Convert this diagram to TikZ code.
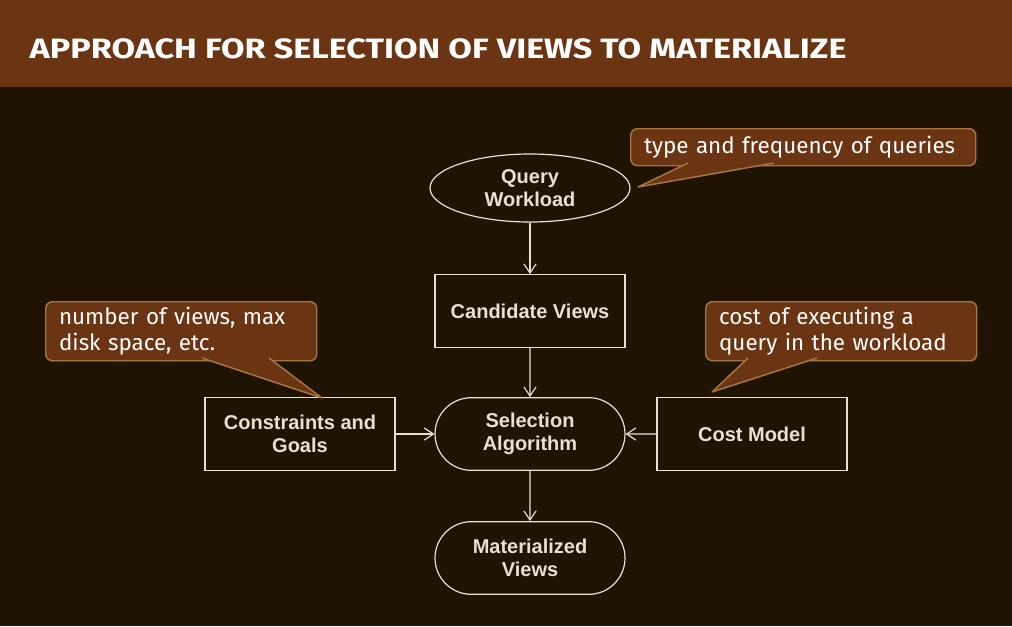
\documentclass[tikz,border=0pt]{standalone}
\usepackage{fontspec}
\usepackage{graphicx}
\setmainfont{Liberation Sans}
\newfontfamily\notefont{Fira Sans}
\usetikzlibrary{arrows.meta,calc,positioning,shapes.geometric,shapes.misc}
\definecolor{bark}{HTML}{6B3513}
\definecolor{night}{HTML}{1F1404}
\definecolor{cream}{HTML}{E9E1CC}
\definecolor{tan}{HTML}{A5763F}
\tikzset{
  >={Straight Barb[length=2.4mm,width=3.2mm]},
  every node/.style={font=\fontsize{15}{17.5}\selectfont\bfseries,text=cream},
  box/.style={draw=cream,line width=0.9pt,minimum width=142.5pt,minimum height=54.5pt,align=center,inner sep=0pt},
  pill/.style={rounded rectangle,draw=cream,line width=0.9pt,minimum width=142.5pt,minimum height=54.5pt,align=center,inner sep=0pt},
  oval/.style={ellipse,draw=cream,line width=0.9pt,minimum width=150pt,minimum height=51pt,align=center,inner sep=0pt},
  note/.style={anchor=north west,rounded corners=5pt,draw=tan,line width=1.1pt,fill=bark,
    font=\notefont\fontsize{16.8}{19}\selectfont,text=white,align=left,inner xsep=10pt,inner ysep=0pt},
  link/.style={->,draw=cream,line width=0.9pt},
}

\begin{document}
\begin{tikzpicture}[x=0.75pt,y=-0.75pt]
  % backdrop and title bar
  \fill[night] (0,0) rectangle (1012,626);
  \fill[bark] (0,0) rectangle (1012,87);
  \node[anchor=base west,text=white,font=\notefont\bfseries\fontsize{21}{24}\selectfont] (title) at (25,58) {\scalebox{1.22}[1]{APPROACH FOR SELECTION OF VIEWS TO MATERIALIZE}};

  % flow
  \node[oval] (qw) at (530,188) {Query\\Workload};
  \node[box] (cand) at (530,311) {Candidate Views};
  \node[pill] (sel) at (530,434) {Selection\\Algorithm};
  \node[pill] (mat) at (530,558) {Materialized\\Views};
  \node[box] (cons) at (300,434) {Constraints and\\Goals};
  \node[box] (cost) at (752,434) {Cost Model};
  \draw[link] (qw) -- (cand);
  \draw[link] (cand) -- (sel);
  \draw[link] (sel) -- (mat);
  \draw[link] (cons) -- (sel);
  \draw[link] (cost) -- (sel);

  % callouts
  \node[note,minimum width=258.75pt,minimum height=27.75pt,text width=238.75pt] (nq) at (630,128) {type and frequency of queries};
  \node[note,minimum width=203.25pt,minimum height=44.25pt,text width=183.25pt] (nc) at (45,301) {number of views, max\\disk space, etc.};
  \node[note,minimum width=203.25pt,minimum height=44.25pt,text width=183.25pt] (nm) at (705,301) {cost of executing a\\query in the workload};
  \coordinate (tq) at (638,187);
  \coordinate (tc) at (322,398);
  \coordinate (tm) at (712,392);
  \fill[bark] (688,163) -- (tq) -- (774,163) -- cycle;
  \draw[tan,line width=1.1pt,line join=round] (688,163) -- (tq) -- (774,163);
  \fill[bark] (202,358) -- (tc) -- (269,358) -- cycle;
  \draw[tan,line width=1.1pt,line join=round] (202,358) -- (tc) -- (269,358);
  \fill[bark] (748,358) -- (tm) -- (817,358) -- cycle;
  \draw[tan,line width=1.1pt,line join=round] (748,358) -- (tm) -- (817,358);
\end{tikzpicture}
\end{document}
